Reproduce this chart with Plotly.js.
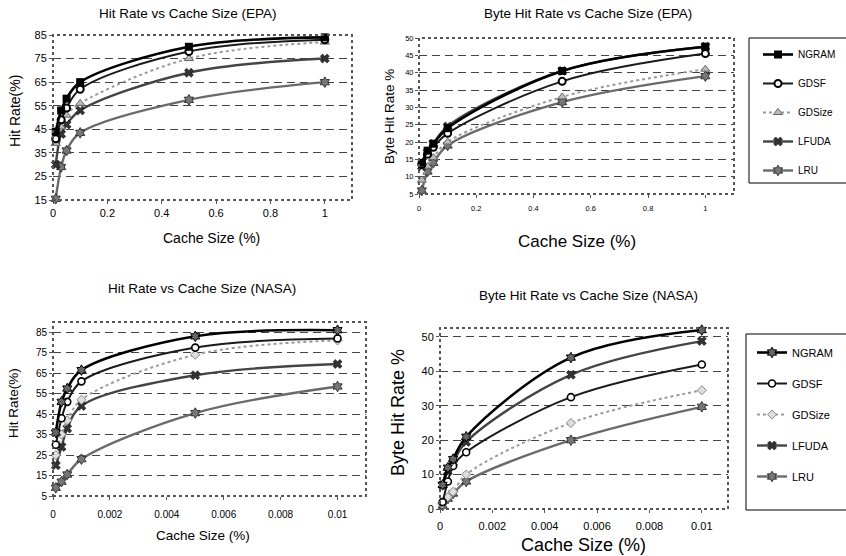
<!DOCTYPE html>
<html>
<head>
<meta charset="utf-8">
<script src="https://cdn.plot.ly/plotly-3.0.1.min.js"></script>
<style>html,body{margin:0;padding:0;background:#fff}#chart{width:846px;height:556px}</style>
</head>
<body>
<div id="chart"></div>
<script>
// ---------- data ----------
const seriesNames = ["NGRAM", "GDSF", "GDSize", "LFUDA", "LRU"];
const xEPA = [0.01, 0.03, 0.05, 0.1, 0.5, 1];
const xNASA = [0.0001, 0.0003, 0.0005, 0.001, 0.005, 0.01];

// Hit rate, EPA
const epaHitNGRAM  = [44, 53, 58, 65, 80, 84];
const epaHitGDSF   = [41, 49, 54, 62, 78, 83];
const epaHitGDSize = [39, 46, 51, 56, 75, 82];
const epaHitLFUDA  = [30, 43, 47, 53, 69, 75];
const epaHitLRU    = [15.5, 29, 36, 43.5, 57.5, 65];

// Byte hit rate, EPA
const epaByteNGRAM  = [14, 17.5, 19.5, 24, 40.5, 47.5];
const epaByteGDSF   = [13.5, 16.5, 18.5, 22.5, 37.5, 45.5];
const epaByteGDSize = [9, 13, 15.5, 20, 33, 41];
const epaByteLFUDA  = [13, 17, 19.5, 24.5, 40.5, 47.5];
const epaByteLRU    = [6, 11.5, 14, 19, 31.5, 39];

// Hit rate, NASA
const nasaHitNGRAM  = [36, 51, 57.5, 66.5, 83, 86];
const nasaHitGDSF   = [30, 43, 51, 61, 77.5, 82];
const nasaHitGDSize = [25, 35, 42, 52, 74, 81];
const nasaHitLFUDA  = [20, 29, 38, 49, 64, 69.5];
const nasaHitLRU    = [9, 12, 15.5, 23, 45.5, 58.5];

// Byte hit rate, NASA
const nasaByteNGRAM  = [7, 12, 14.5, 21, 44, 52];
const nasaByteGDSF   = [2, 8, 12.5, 16.5, 32.5, 42];
const nasaByteGDSize = [1.5, 3.5, 5, 10, 25, 34.5];
const nasaByteLFUDA  = [7, 11, 13.5, 19.5, 39, 48.8];
const nasaByteLRU    = [1, 3, 4.5, 8, 20, 29.7];

const hitTicks = [15, 25, 35, 45, 55, 65, 75, 85];
const nasaHitTicks = [5, 15, 25, 35, 45, 55, 65, 75, 85];

// ---------- styles ----------
const W = 846, H = 556;
const px = v => v / W;
const py = v => 1 - v / H;
const FONT = "Liberation Sans, Arial, sans-serif";

const styleEPA = {
  NGRAM:  {line:{color:"#000", width:2.6}, marker:{symbol:"square", size:8, color:"#000"}},
  GDSF:   {line:{color:"#1a1a1a", width:2}, marker:{symbol:"circle", size:7, color:"#fff", line:{color:"#000", width:2}}},
  GDSize: {line:{color:"#9a9a9a", width:2, dash:"dot"}, marker:{symbol:"triangle-up", size:8, color:"#bbb", line:{color:"#666", width:1}}},
  LFUDA:  {line:{color:"#444", width:2.4}, marker:{symbol:"x", size:8, color:"#333", line:{color:"#000", width:0.5}}},
  LRU:    {line:{color:"#6a6a6a", width:2.4}, marker:{symbol:"hexagram", size:8, color:"#777", line:{color:"#333", width:1}}}
};
const styleNASA = {
  NGRAM:  {line:{color:"#000", width:2.6}, marker:{symbol:"hexagram", size:8, color:"#666", line:{color:"#000", width:1}}},
  GDSF:   {line:{color:"#1a1a1a", width:2}, marker:{symbol:"circle", size:7, color:"#fff", line:{color:"#000", width:1.6}}},
  GDSize: {line:{color:"#9a9a9a", width:2, dash:"dot"}, marker:{symbol:"diamond", size:7, color:"#ddd", line:{color:"#888", width:1}}},
  LFUDA:  {line:{color:"#444", width:2.4}, marker:{symbol:"x", size:8, color:"#333", line:{color:"#000", width:0.5}}},
  LRU:    {line:{color:"#6a6a6a", width:2.4}, marker:{symbol:"hexagram", size:8, color:"#777", line:{color:"#333", width:1}}}
};

const panels = [
  {xa:"x",  ya:"y",  x:xEPA,  data:[epaHitNGRAM, epaHitGDSF, epaHitGDSize, epaHitLFUDA, epaHitLRU], st:styleEPA, legend:null},
  {xa:"x2", ya:"y2", x:xEPA,  data:[epaByteNGRAM, epaByteGDSF, epaByteGDSize, epaByteLFUDA, epaByteLRU], st:styleEPA, legend:"legend"},
  {xa:"x3", ya:"y3", x:xNASA, data:[nasaHitNGRAM, nasaHitGDSF, nasaHitGDSize, nasaHitLFUDA, nasaHitLRU], st:styleNASA, legend:null},
  {xa:"x4", ya:"y4", x:xNASA, data:[nasaByteNGRAM, nasaByteGDSF, nasaByteGDSize, nasaByteLFUDA, nasaByteLRU], st:styleNASA, legend:"legend2"}
];

const traces = [];
panels.forEach((p, pi) => {
  for (let i = seriesNames.length - 1; i >= 0; i--) {
    const name = seriesNames[i];
    const s = p.st[name];
    const t = {
      type:"scatter", mode:"lines+markers", name:name,
      x:p.x, y:p.data[i], xaxis:p.xa, yaxis:p.ya,
      line:Object.assign({shape:"spline", smoothing:1}, s.line),
      marker:s.marker,
      showlegend: !!p.legend,
      legendgroup: "g" + pi + "_" + i,
      legendrank: i + 1,
      cliponaxis:false
    };
    if (p.legend) t.legend = p.legend;
    traces.push(t);
  }
});

const gridBase = {showgrid:true, gridcolor:"#444", gridwidth:1, griddash:"8px,5px", zeroline:false,
  showline:false, ticks:"outside", ticklen:3, tickcolor:"#555", fixedrange:true};
const xBase = {showgrid:false, zeroline:false, showline:false, ticks:"outside", ticklen:3, tickcolor:"#555", fixedrange:true};

const layout = {
  width:W, height:H,
  margin:{l:0, r:0, t:0, b:0},
  paper_bgcolor:"#fff", plot_bgcolor:"#fff",
  font:{family:FONT, color:"#000"},
  xaxis:  Object.assign({}, xBase, {domain:[px(53), px(352)], range:[0, 1.1], tickvals:[0,0.2,0.4,0.6,0.8,1], ticktext:["0","0.2","0.4","0.6","0.8","1"], tickfont:{size:11}, anchor:"y"}),
  yaxis:  Object.assign({}, gridBase, {domain:[py(200), py(35)], range:[15, 85], tickvals:hitTicks, tickfont:{size:11}, anchor:"x"}),
  xaxis2: Object.assign({}, xBase, {domain:[px(419), px(734)], range:[0, 1.1], tickvals:[0,0.2,0.4,0.6,0.8,1], ticktext:["0","0.2","0.4","0.6","0.8","1"], tickfont:{size:7.5}, anchor:"y2", ticklabelstandoff:4}),
  yaxis2: Object.assign({}, gridBase, {domain:[py(194), py(38)], range:[5, 50], dtick:5, tick0:5, tickfont:{size:7.5}, anchor:"x2"}),
  xaxis3: Object.assign({}, xBase, {domain:[px(53), px(366)], range:[0, 0.011], tickvals:[0,0.002,0.004,0.006,0.008,0.01], ticktext:["0","0.002","0.004","0.006","0.008","0.01"], tickfont:{size:10}, anchor:"y3", ticklabelstandoff:6}),
  yaxis3: Object.assign({}, gridBase, {domain:[py(496), py(322)], range:[5, 90], tickvals:nasaHitTicks, tickfont:{size:10}, anchor:"x3"}),
  xaxis4: Object.assign({}, xBase, {domain:[px(440), px(728)], range:[0, 0.011], tickvals:[0,0.002,0.004,0.006,0.008,0.01], ticktext:["0","0.002","0.004","0.006","0.008","0.01"], tickfont:{size:11}, anchor:"y4", ticklabelstandoff:4}),
  yaxis4: Object.assign({}, gridBase, {domain:[py(509), py(328)], range:[0, 52.6], dtick:10, tick0:0, tickfont:{size:11}, anchor:"x4"}),
  legend: {x:px(758), y:py(40), xanchor:"left", yanchor:"top", bgcolor:"rgba(0,0,0,0)", borderwidth:0,
    font:{size:10, family:FONT}, tracegroupgap:10, traceorder:"grouped"},
  legend2: {x:px(752), y:py(338), xanchor:"left", yanchor:"top", bgcolor:"rgba(0,0,0,0)", borderwidth:0,
    font:{size:11, family:FONT}, tracegroupgap:12, traceorder:"grouped"},
  shapes: [],
  annotations: []
};

[["x","y"],["x2","y2"],["x3","y3"],["x4","y4"]].forEach(([xa, ya]) => {
  layout.shapes.push({type:"rect", xref:xa + " domain", yref:ya + " domain", x0:0, x1:1, y0:0, y1:1,
    line:{color:"#555", width:2, dash:"dot"}, layer:"above"});
});
layout.shapes.push({type:"rect", xref:"paper", yref:"paper", x0:px(749), x1:px(852), y0:py(183), y1:py(38), line:{color:"#000", width:1}});
layout.shapes.push({type:"rect", xref:"paper", yref:"paper", x0:px(746), x1:px(852), y0:py(510), y1:py(334), line:{color:"#000", width:1}});

function ann(text, x, y, size, angle) {
  layout.annotations.push({text:text, xref:"paper", yref:"paper", x:px(x), y:py(y),
    xanchor:"center", yanchor:"middle", showarrow:false, textangle:angle || 0,
    font:{size:size, family:FONT, color:"#000"}});
}
ann("Hit Rate vs Cache Size (EPA)", 188, 14, 13.5);
ann("Byte Hit Rate vs Cache Size (EPA)", 588, 14, 13.5);
ann("Hit Rate vs Cache Size (NASA)", 202, 288, 13.5);
ann("Byte Hit Rate vs Cache Size (NASA)", 588, 295, 13.5);
ann("Hit Rate(%)", 15, 111, 14, -90);
ann("Cache Size (%)", 212, 238, 14);
ann("Byte Hit Rate %", 389, 117, 13.5, -90);
ann("Cache Size (%)", 577, 242, 17);
ann("Hit Rate(%)", 13, 403, 13.5, -90);
ann("Cache Size (%)", 203, 535, 13.5);
ann("Byte Hit Rate %", 398, 413, 18, -90);
ann("Cache Size (%)", 583, 545, 18);

Plotly.newPlot("chart", traces, layout, {displayModeBar:false, staticPlot:true});
</script>
</body>
</html>
